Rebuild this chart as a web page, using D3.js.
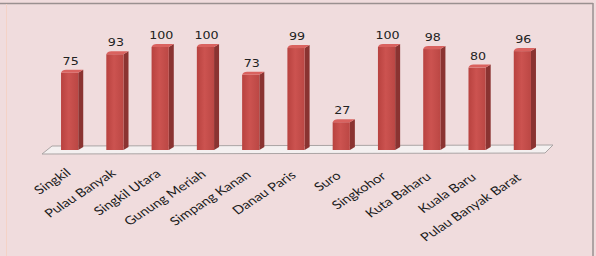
<!DOCTYPE html>
<html>
<head>
<meta charset="utf-8">
<script src="https://cdn.jsdelivr.net/npm/d3@7"></script>
<style>
  body { margin: 0; background: #f0dcdd; }
  svg { display: block; }
</style>
</head>
<body>
<svg width="596" height="256"></svg>
<script>
const categories = ['Singkil', 'Pulau Banyak', 'Singkil Utara', 'Gunung Meriah', 'Simpang Kanan',
  'Danau Paris', 'Suro', 'Singkohor', 'Kuta Baharu', 'Kuala Baru', 'Pulau Banyak Barat'];
const values = [75, 93, 100, 100, 73, 99, 27, 100, 98, 80, 96];

const svg = d3.select('svg');
const width = +svg.attr('width');
const height = +svg.attr('height');

const data = categories.map((c, i) => ({ name: c, value: values[i] }));

// background + frame
svg.append('rect').attr('width', width).attr('height', height).attr('fill', '#f0dcdd');
svg.append('line').attr('x1', 0).attr('x2', 593).attr('y1', 3.5).attr('y2', 3.5)
  .attr('stroke', '#9a9090').attr('stroke-width', 1.5);
svg.append('line').attr('x1', 593).attr('x2', 593).attr('y1', 3).attr('y2', height)
  .attr('stroke', '#9a9090').attr('stroke-width', 1.5);
svg.append('line').attr('x1', 6.5).attr('x2', 6.5).attr('y1', 4).attr('y2', height)
  .attr('stroke', '#f4d2c6').attr('stroke-width', 1);

const xScale = d3.scaleBand()
  .domain(categories)
  .range([47, 545])
  .paddingInner(0.62)
  .paddingOuter(0.31);

const yScale = d3.scaleLinear()
  .domain([0, 100])
  .range([150, 47]);

const defs = svg.append('defs');
const grad = defs.append('linearGradient').attr('id', 'front')
  .attr('x1', '0%').attr('x2', '100%');
grad.append('stop').attr('offset', '0%').attr('stop-color', '#b8423f');
grad.append('stop').attr('offset', '45%').attr('stop-color', '#cc5350');
grad.append('stop').attr('offset', '100%').attr('stop-color', '#bb4744');

// floor
const r = xScale.range();
const y0 = yScale(0);
svg.append('path')
  .attr('d', `M${r[0] + 5},${y0 - 4} L${r[1] + 8},${y0 - 5} L${r[1]},${y0 + 3} L${r[0] - 5},${y0 + 4} Z`)
  .attr('fill', '#f4f0f0').attr('stroke', '#aaa4a4').attr('stroke-width', 1);

const bw = xScale.bandwidth();
const dep = 5, rise = 3;
const g = svg.append('g');

const bars = g.selectAll('g.bar').data(data).enter().append('g').attr('class', 'bar');

// side face
bars.append('path')
  .attr('d', d => {
    const x1 = xScale(d.name) + bw, yt = yScale(d.value);
    return `M${x1},${yt} L${x1 + dep},${yt - rise} L${x1 + dep},${y0 - rise} L${x1},${y0} Z`;
  })
  .attr('fill', '#8a3331');

// front face
bars.append('rect')
  .attr('x', d => xScale(d.name))
  .attr('y', d => yScale(d.value))
  .attr('width', bw)
  .attr('height', d => y0 - yScale(d.value))
  .attr('fill', 'url(#front)');

// top face
bars.append('path')
  .attr('d', d => {
    const x0 = xScale(d.name), yt = yScale(d.value);
    return `M${x0},${yt} Q${x0 + 1},${yt - rise} ${x0 + dep},${yt - rise} L${x0 + bw + dep},${yt - rise} L${x0 + bw},${yt} Z`;
  })
  .attr('fill', '#d9625f');

// value labels (source picture is stretched horizontally)
bars.append('text')
  .attr('transform', d => `translate(${xScale(d.name) + bw / 2 + 1},${yScale(d.value) - 8}) scale(1.15,1)`)
  .attr('text-anchor', 'middle')
  .attr('font-family', 'DejaVu Sans')
  .attr('font-size', 11)
  .attr('fill', '#222')
  .text(d => d.value);

// category labels
const xAxis = d3.axisBottom(xScale).tickSize(0).tickPadding(0);
const xAxisG = svg.append('g').call(xAxis);
xAxisG.select('.domain').remove();
xAxisG.selectAll('.tick')
  .attr('transform', (d, i) => `translate(${xScale(d) + bw / 2 + 2 - i * 0.23},${174 + i * 0.5}) scale(1.24,1)`);
xAxisG.selectAll('.tick text')
  .attr('y', 0)
  .attr('dy', 0)
  .attr('text-anchor', 'end')
  .attr('transform', 'rotate(-39)')
  .attr('font-family', 'Lato')
  .attr('font-size', 11.8)
  .attr('fill', '#1a1a1a');
</script>
</body>
</html>
